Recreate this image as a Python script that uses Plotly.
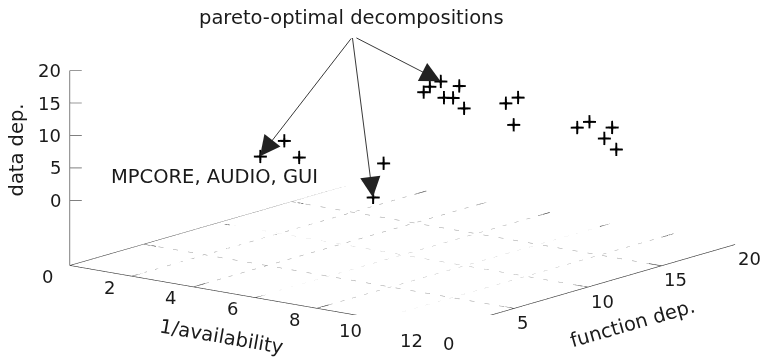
import plotly.graph_objects as go

# ---- data ----
avail    = [5.3, 5.6, 5.7, 6.0, 5.9, 3.7, 4.3, 4.1, 5.3, 4.9, 5.1, 5.6, 7.0, 7.3, 7.3, 10.6, 10.9, 11.3, 11.0, 11.1]
func_dep = [1.8, 2.8, 3.6, 8.7, 8.2, 17.4, 15.4, 15.4, 15.3, 15.1, 15.3, 15.0, 14.9, 15.1, 14.8, 12.2, 12.4, 13.1, 13.2, 13.8]
data_dep = [10, 12, 9, 5, 0, 10, 11, 10, 12, 10, 10, 9, 11, 12, 8, 12, 13, 12, 10, 8]
pareto_idx = [0, 4, 5]

x_ticks = [0, 2, 4, 6, 8, 10, 12]
y_ticks = [0, 5, 10, 15, 20]
z_ticks = [0, 5, 10, 15, 20]
x_rng = [0, 12]
y_rng = [0, 20]
z_rng = [-10, 20]
base = z_rng[0]

FONT = "DejaVu Sans"
FS = 19.5
TFS = 18
TXT = "#1a1a1a"

# ---- base plane: border, grid, tics; vertical z axis ----
bx, by, bz = [], [], []
for (xa, ya), (xb, yb) in [((0, 0), (12, 0)), ((12, 0), (12, 20)), ((12, 20), (0, 20)), ((0, 20), (0, 0))]:
    bx += [xa, xb, None]; by += [ya, yb, None]; bz += [base, base, None]
gx, gy, gz = [], [], []
for xv in x_ticks[1:-1]:
    gx += [xv, xv, None]; gy += [y_rng[0], y_rng[1], None]; gz += [base, base, None]
    bx += [xv, xv, None, xv, xv, None]; by += [0, 0.8, None, 20, 19.2, None]; bz += [base] * 2 + [None] + [base] * 2 + [None]
for yv in y_ticks[1:-1]:
    gx += [x_rng[0], x_rng[1], None]; gy += [yv, yv, None]; gz += [base, base, None]
    bx += [12, 11.6, None, 0, 0.4, None]; by += [yv, yv, None, yv, yv, None]; bz += [base] * 2 + [None] + [base] * 2 + [None]
# z axis line and tics
bx += [0, 0, None]; by += [0, 0, None]; bz += [z_rng[0], z_ticks[-1], None]
for zv in z_ticks:
    bx += [0, 0.24, None]; by += [0, 0.31, None]; bz += [zv, zv, None]

fig = go.Figure()
fig.add_trace(go.Scatter3d(x=gx, y=gy, z=gz, mode="lines",
                           line=dict(color="#999999", width=1, dash="dot"),
                           hoverinfo="skip", showlegend=False))
fig.add_trace(go.Scatter3d(x=bx, y=by, z=bz, mode="lines",
                           line=dict(color="#333333", width=1.2),
                           hoverinfo="skip", showlegend=False))
fig.add_trace(go.Scatter3d(x=avail, y=func_dep, z=data_dep, mode="text",
                           text=["+"] * len(avail), textposition="middle center",
                           textfont=dict(family="Liberation Sans", size=27, color="black"),
                           showlegend=False))

scene_ann = []
# tick labels
for xv in x_ticks:
    scene_ann.append(dict(x=xv, y=0, z=base, text=str(xv), showarrow=False,
                          xanchor="right", yanchor="middle", xshift=-15, yshift=-11,
                          font=dict(family=FONT, size=TFS, color=TXT)))
for yv in y_ticks:
    scene_ann.append(dict(x=12, y=yv, z=base, text=str(yv), showarrow=False,
                          xanchor="left", yanchor="middle", xshift=1, yshift=-14,
                          font=dict(family=FONT, size=TFS, color=TXT)))
for zv in z_ticks:
    scene_ann.append(dict(x=0, y=0, z=zv, text=str(zv), showarrow=False,
                          xanchor="right", yanchor="middle", xshift=-7, yshift=0,
                          font=dict(family=FONT, size=TFS, color=TXT)))

# arrows to the pareto-optimal points
tail = (351.7, 36.7)
approx_screen = [(259.3, 156.0), (372.3, 197.3), (437.3, 80.7)]
for k, i in enumerate(pareto_idx):
    sx, sy = approx_screen[k]
    scene_ann.append(dict(x=avail[i], y=func_dep[i], z=data_dep[i], text="",
                          showarrow=True, arrowhead=2, arrowsize=4.5, arrowwidth=0.9,
                          arrowcolor="#222222", ax=tail[0] - sx, ay=tail[1] - sy))
scene_ann.append(dict(x=avail[0], y=func_dep[0], z=data_dep[0], text="MPCORE, AUDIO, GUI",
                      showarrow=False, xanchor="center", yanchor="middle",
                      xshift=-46, yshift=-20,
                      font=dict(family=FONT, size=FS, color=TXT)))

hidden = dict(showbackground=False, showgrid=False, zeroline=False, showline=False,
              showticklabels=False, ticks="", showspikes=False, title_text="")

EYE = 2.0
fig.update_layout(
    width=763, height=357, margin=dict(l=0, r=0, t=0, b=0),
    paper_bgcolor="white",
    scene=dict(
        domain=dict(x=[42 / 763, 1.0], y=[42 / 357, 1.0]),
        xaxis=dict(range=x_rng, **hidden),
        yaxis=dict(range=y_rng, **hidden),
        zaxis=dict(range=z_rng, **hidden),
        aspectmode="manual", aspectratio=dict(x=2.976, y=3.057, z=1.27),
        camera=dict(projection=dict(type="orthographic"),
                    eye=dict(x=0.597 * EYE, y=-0.771 * EYE, z=0.224 * EYE),
                    up=dict(x=0, y=0, z=1), center=dict(x=0, y=0, z=0)),
        bgcolor="white",
        annotations=scene_ann,
    ),
    annotations=[
        dict(x=351 / 763, y=1 - 17 / 357, xref="paper", yref="paper",
             xanchor="center", yanchor="middle",
             text="pareto-optimal decompositions", showarrow=False,
             font=dict(family=FONT, size=FS, color=TXT)),
        dict(x=15.5 / 763, y=1 - 150 / 357, xref="paper", yref="paper",
             xanchor="center", yanchor="middle",
             text="data dep.", textangle=-90, showarrow=False,
             font=dict(family=FONT, size=FS, color=TXT)),
        dict(x=221 / 763, y=1 - 336 / 357, xref="paper", yref="paper",
             xanchor="center", yanchor="middle",
             text="1/availability", textangle=10, showarrow=False,
             font=dict(family=FONT, size=FS, color=TXT)),
        dict(x=632 / 763, y=1 - 323 / 357, xref="paper", yref="paper",
             xanchor="center", yanchor="middle",
             text="function dep.", textangle=-16, showarrow=False,
             font=dict(family=FONT, size=FS, color=TXT)),
    ],
)

fig.write_html("out.html", config={"displayModeBar": False},
               post_script="document.body.style.margin='0px';")
